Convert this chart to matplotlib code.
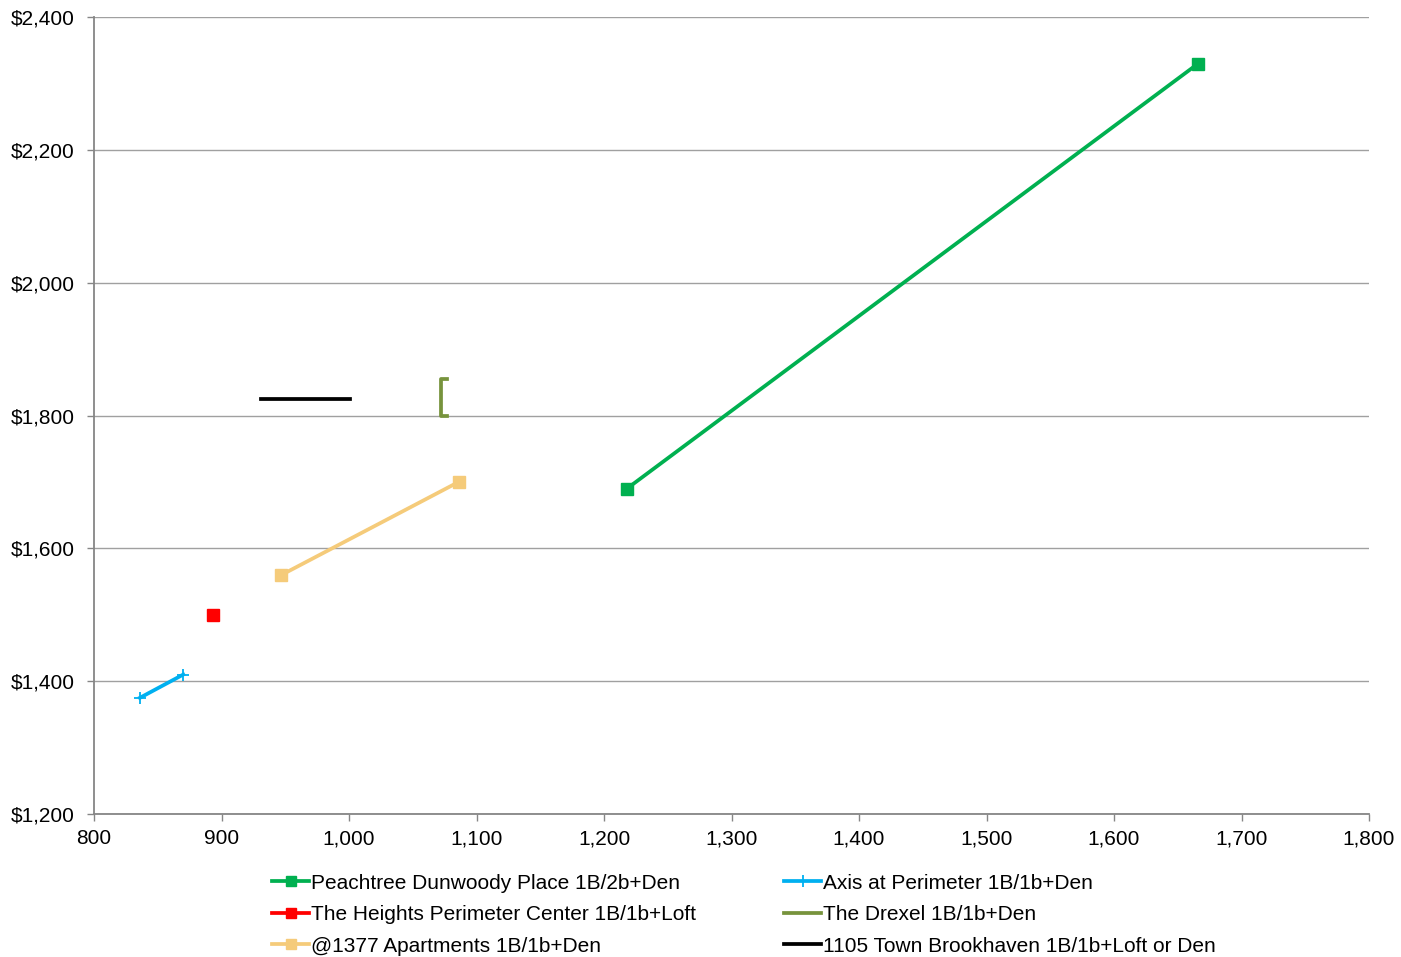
import matplotlib
matplotlib.use("Agg")
import matplotlib.pyplot as plt
from matplotlib.ticker import FuncFormatter
from matplotlib.lines import Line2D

plt.rcParams['font.family'] = ['Liberation Sans', 'DejaVu Sans']

# Data (square feet vs monthly rent)
peachtree_x = [1218, 1666]
peachtree_y = [1690, 2330]
axis_x = [836, 870]
axis_y = [1375, 1410]
heights_x = [893]
heights_y = [1500]
drexel_x = [1077, 1072, 1072, 1077]
drexel_y = [1855, 1855, 1800, 1800]
apt1377_x = [947, 1086]
apt1377_y = [1560, 1700]
town_x = [931, 1001]
town_y = [1825, 1825]

labels = ["Peachtree Dunwoody Place 1B/2b+Den",
          "Axis at Perimeter 1B/1b+Den",
          "The Heights Perimeter Center 1B/1b+Loft",
          "The Drexel 1B/1b+Den",
          "@1377 Apartments 1B/1b+Den",
          "1105 Town Brookhaven 1B/1b+Loft or Den"]

fig = plt.figure(figsize=(14.01, 9.57), dpi=100)
ax = fig.add_axes([0.0671, 0.1494, 0.9772 - 0.0671, 0.9822 - 0.1494])

lw = 2.7
ax.plot(peachtree_x, peachtree_y, color='#00B050', lw=lw, marker='s', ms=8.5, label=labels[0])
ax.plot(axis_x, axis_y, color='#00B0F0', lw=lw, marker='+', ms=9, mew=1.3, label=labels[1])
ax.plot(heights_x, heights_y, color='#FF0000', lw=lw, marker='s', ms=8.5, ls='none', label=labels[2])
ax.plot(drexel_x, drexel_y, color='#77933C', lw=lw, label=labels[3])
ax.plot(apt1377_x, apt1377_y, color='#F5CB7A', lw=lw, marker='s', ms=8.5, label=labels[4])
ax.plot(town_x, town_y, color='#000000', lw=lw, label=labels[5])

ax.set_xlim(800, 1800)
ax.set_ylim(1200, 2400)
ax.set_xticks(range(800, 1801, 100))
ax.set_yticks(range(1200, 2401, 200))
ax.xaxis.set_major_formatter(FuncFormatter(lambda v, p: f"{int(v):,}"))
ax.yaxis.set_major_formatter(FuncFormatter(lambda v, p: f"${int(v):,}"))
ax.yaxis.grid(True, color='#A0A0A0', lw=1.0)
ax.set_axisbelow(True)
for s in ['top', 'right']:
    ax.spines[s].set_visible(False)
for s in ['left', 'bottom']:
    ax.spines[s].set_color('#868686')
    ax.spines[s].set_linewidth(1.3)
ax.tick_params(axis='both', colors='#868686', length=5, width=1, labelsize=15, labelcolor='black', direction='out')
ax.tick_params(axis='x', pad=6)
ax.tick_params(axis='y', pad=9)

hl = [
    Line2D([], [], color='#00B050', lw=lw, marker='s', ms=7),
    Line2D([], [], color='#FF0000', lw=lw, marker='s', ms=7),
    Line2D([], [], color='#F5CB7A', lw=lw, marker='s', ms=7),
    Line2D([], [], color='#00B0F0', lw=lw, marker='+', ms=8, mew=1.3),
    Line2D([], [], color='#77933C', lw=lw),
    Line2D([], [], color='#000000', lw=lw),
]
ll = [labels[0], labels[2], labels[4], labels[1], labels[3], labels[5]]
fig.legend(hl, ll, ncol=2, loc='upper left', bbox_to_anchor=(0.194, 0.087),
           frameon=False, fontsize=15, handlelength=1.8, handletextpad=0.1,
           columnspacing=4.2, labelspacing=0.6, borderaxespad=0, borderpad=0)

fig.savefig("out.png", dpi=100)
